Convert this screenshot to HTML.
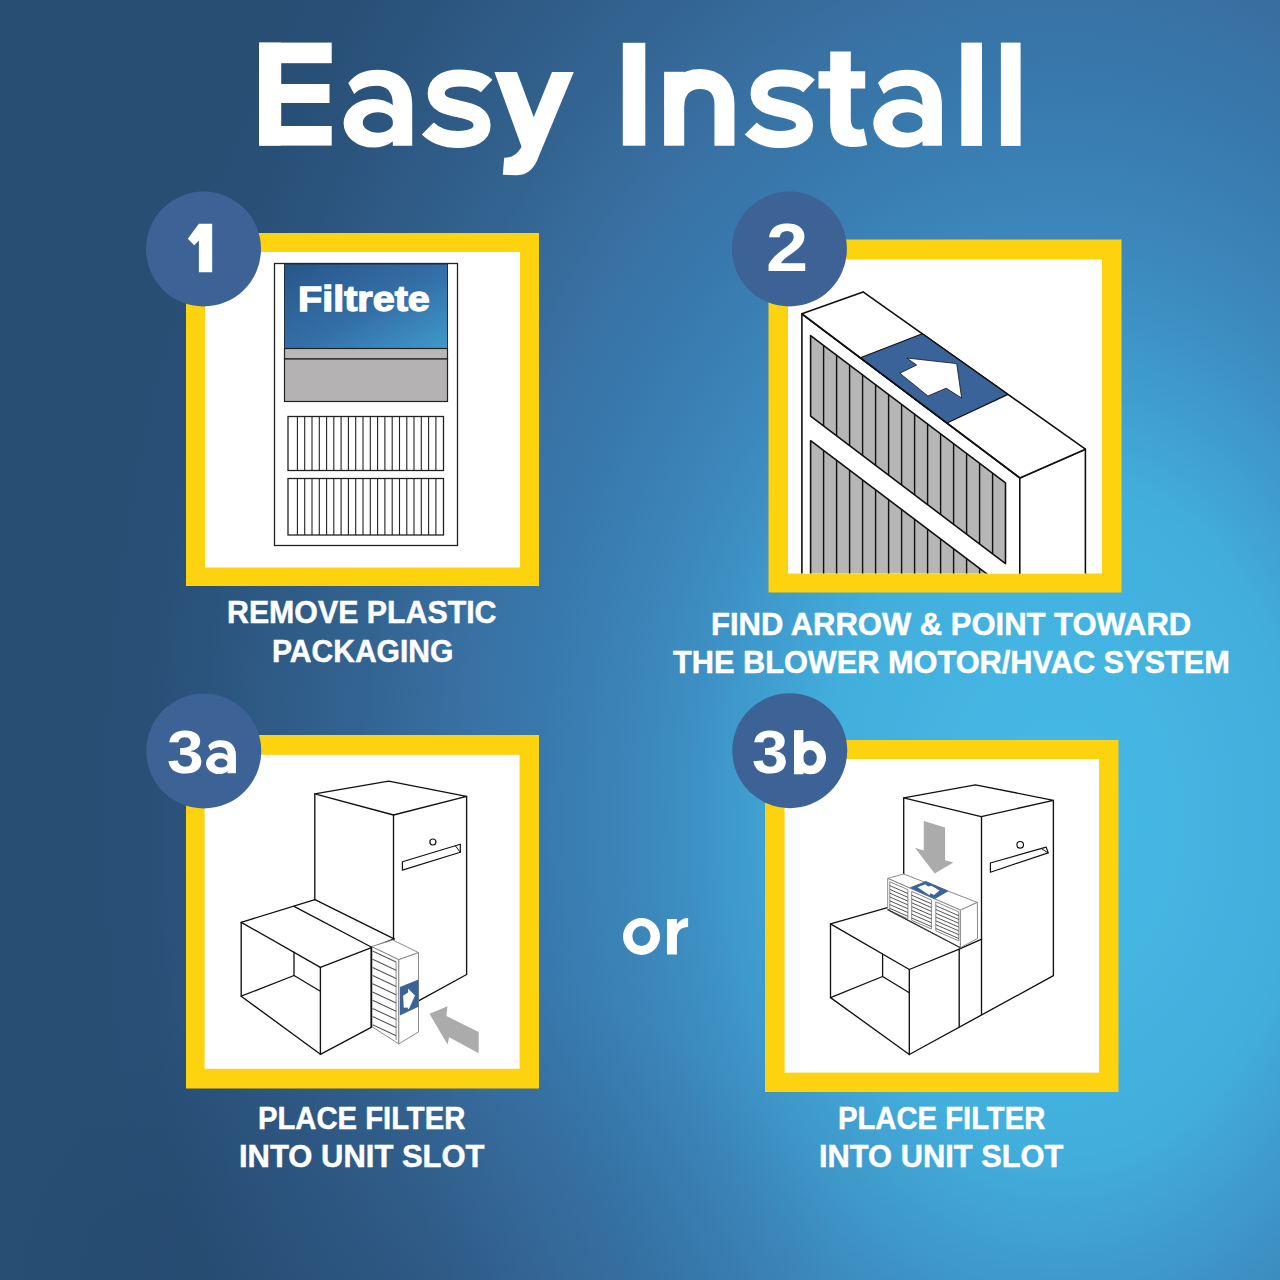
<!DOCTYPE html>
<html><head><meta charset="utf-8">
<style>
html,body{margin:0;padding:0;}
body{width:1280px;height:1280px;overflow:hidden;position:relative;background:radial-gradient(ellipse 420px 330px at 420px 1300px, rgba(28,52,88,0.22) 0%, rgba(28,52,88,0.12) 50%, rgba(28,52,88,0) 100%),
 radial-gradient(ellipse 1000px 1400px at 1060px 820px, #47bae7 0%, #45b7e4 7%, #42aedc 24%, #3d8ec2 38%, #3c87bb 42%, #3878ac 53%, #3872a5 59%, #386ea0 62%, #336491 70%, #2e5a85 80%, #2b547d 86%, #284f76 92%, #284e74 100%);font-family:"Liberation Sans",sans-serif;}
.t{position:absolute;color:#fff;font-weight:bold;white-space:nowrap;line-height:1;transform-origin:0 0;}
.c{position:absolute;color:#fff;font-weight:bold;white-space:nowrap;line-height:1;text-align:center;width:600px;}
svg{position:absolute;left:0;top:0;}
</style></head><body>
<svg width="1280" height="1280" viewBox="0 0 1280 1280">
<g fill="#fdd20e">
<rect x="186" y="233" width="353" height="353"/>
<rect x="768.5" y="239.5" width="353" height="353"/>
<rect x="186" y="735" width="353" height="353.5"/>
<rect x="765" y="740" width="353.5" height="352"/>
</g>
<g fill="#fff">
<rect x="205" y="252" width="315" height="315.5"/>
<rect x="788" y="259.5" width="314" height="314"/>
<rect x="204.6" y="754.8" width="315" height="314"/>
<rect x="784.6" y="759" width="314.4" height="313.6"/>
</g>
<g id="p1">
<defs><linearGradient id="fg1" x1="0" y1="0" x2="1" y2="1"><stop offset="0" stop-color="#27568a"/><stop offset="0.55" stop-color="#3470a8"/><stop offset="1" stop-color="#3e9acb"/></linearGradient></defs>
<rect x="274.5" y="263.5" width="183" height="282" fill="#fff" stroke="#222" stroke-width="1.3"/>
<rect x="284.5" y="264" width="163" height="84.5" fill="url(#fg1)" stroke="#1d2d44" stroke-width="1"/>
<rect x="284.5" y="348.5" width="163" height="10.5" fill="#bab7b7" stroke="#222" stroke-width="1.2"/>
<rect x="284.5" y="359" width="163" height="42.5" fill="#b5b2b3" stroke="#222" stroke-width="1.2"/>
<rect x="288" y="416.5" width="155.5" height="54.0" fill="#fff" stroke="#222" stroke-width="1.3"/>
<line x1="297.4" y1="416.5" x2="297.4" y2="470.5" stroke="#222" stroke-width="1.1"/>
<line x1="304.7" y1="416.5" x2="304.7" y2="470.5" stroke="#222" stroke-width="1.1"/>
<line x1="312.0" y1="416.5" x2="312.0" y2="470.5" stroke="#222" stroke-width="1.1"/>
<line x1="319.3" y1="416.5" x2="319.3" y2="470.5" stroke="#222" stroke-width="1.1"/>
<line x1="326.6" y1="416.5" x2="326.6" y2="470.5" stroke="#222" stroke-width="1.1"/>
<line x1="333.8" y1="416.5" x2="333.8" y2="470.5" stroke="#222" stroke-width="1.1"/>
<line x1="341.1" y1="416.5" x2="341.1" y2="470.5" stroke="#222" stroke-width="1.1"/>
<line x1="348.4" y1="416.5" x2="348.4" y2="470.5" stroke="#222" stroke-width="1.1"/>
<line x1="355.7" y1="416.5" x2="355.7" y2="470.5" stroke="#222" stroke-width="1.1"/>
<line x1="363.0" y1="416.5" x2="363.0" y2="470.5" stroke="#222" stroke-width="1.1"/>
<line x1="370.3" y1="416.5" x2="370.3" y2="470.5" stroke="#222" stroke-width="1.1"/>
<line x1="377.6" y1="416.5" x2="377.6" y2="470.5" stroke="#222" stroke-width="1.1"/>
<line x1="384.9" y1="416.5" x2="384.9" y2="470.5" stroke="#222" stroke-width="1.1"/>
<line x1="392.2" y1="416.5" x2="392.2" y2="470.5" stroke="#222" stroke-width="1.1"/>
<line x1="399.5" y1="416.5" x2="399.5" y2="470.5" stroke="#222" stroke-width="1.1"/>
<line x1="406.8" y1="416.5" x2="406.8" y2="470.5" stroke="#222" stroke-width="1.1"/>
<line x1="414.0" y1="416.5" x2="414.0" y2="470.5" stroke="#222" stroke-width="1.1"/>
<line x1="421.3" y1="416.5" x2="421.3" y2="470.5" stroke="#222" stroke-width="1.1"/>
<line x1="428.6" y1="416.5" x2="428.6" y2="470.5" stroke="#222" stroke-width="1.1"/>
<line x1="435.9" y1="416.5" x2="435.9" y2="470.5" stroke="#222" stroke-width="1.1"/>
<rect x="288" y="478.5" width="155.5" height="56.5" fill="#fff" stroke="#222" stroke-width="1.3"/>
<line x1="297.4" y1="478.5" x2="297.4" y2="535" stroke="#222" stroke-width="1.1"/>
<line x1="304.7" y1="478.5" x2="304.7" y2="535" stroke="#222" stroke-width="1.1"/>
<line x1="312.0" y1="478.5" x2="312.0" y2="535" stroke="#222" stroke-width="1.1"/>
<line x1="319.3" y1="478.5" x2="319.3" y2="535" stroke="#222" stroke-width="1.1"/>
<line x1="326.6" y1="478.5" x2="326.6" y2="535" stroke="#222" stroke-width="1.1"/>
<line x1="333.8" y1="478.5" x2="333.8" y2="535" stroke="#222" stroke-width="1.1"/>
<line x1="341.1" y1="478.5" x2="341.1" y2="535" stroke="#222" stroke-width="1.1"/>
<line x1="348.4" y1="478.5" x2="348.4" y2="535" stroke="#222" stroke-width="1.1"/>
<line x1="355.7" y1="478.5" x2="355.7" y2="535" stroke="#222" stroke-width="1.1"/>
<line x1="363.0" y1="478.5" x2="363.0" y2="535" stroke="#222" stroke-width="1.1"/>
<line x1="370.3" y1="478.5" x2="370.3" y2="535" stroke="#222" stroke-width="1.1"/>
<line x1="377.6" y1="478.5" x2="377.6" y2="535" stroke="#222" stroke-width="1.1"/>
<line x1="384.9" y1="478.5" x2="384.9" y2="535" stroke="#222" stroke-width="1.1"/>
<line x1="392.2" y1="478.5" x2="392.2" y2="535" stroke="#222" stroke-width="1.1"/>
<line x1="399.5" y1="478.5" x2="399.5" y2="535" stroke="#222" stroke-width="1.1"/>
<line x1="406.8" y1="478.5" x2="406.8" y2="535" stroke="#222" stroke-width="1.1"/>
<line x1="414.0" y1="478.5" x2="414.0" y2="535" stroke="#222" stroke-width="1.1"/>
<line x1="421.3" y1="478.5" x2="421.3" y2="535" stroke="#222" stroke-width="1.1"/>
<line x1="428.6" y1="478.5" x2="428.6" y2="535" stroke="#222" stroke-width="1.1"/>
<line x1="435.9" y1="478.5" x2="435.9" y2="535" stroke="#222" stroke-width="1.1"/>
</g>
<defs><clipPath id="c2"><rect x="788" y="259.5" width="314" height="314"/></clipPath></defs>
<g clip-path="url(#c2)" stroke="#111" stroke-width="1.6" stroke-linejoin="round">
<polygon points="801.9,313.8 1019.8,477.9 1019.8,700.0 801.9,700.0" fill="#fff"/>
<polygon points="1019.8,477.9 1085.4,449.2 1085.4,700.0 1019.8,700.0" fill="#fff"/>
<polygon points="810.6,335.6 1005.5,482.9 1005.5,563.6 810.6,416.2" fill="#b6b6b6"/>
<line x1="823.6" y1="345.4" x2="823.6" y2="426.1" stroke-width="1.4"/>
<line x1="836.6" y1="355.3" x2="836.6" y2="435.9" stroke-width="1.4"/>
<line x1="849.6" y1="365.1" x2="849.6" y2="445.7" stroke-width="1.4"/>
<line x1="862.6" y1="374.9" x2="862.6" y2="455.6" stroke-width="1.4"/>
<line x1="875.6" y1="384.7" x2="875.6" y2="465.4" stroke-width="1.4"/>
<line x1="888.6" y1="394.6" x2="888.6" y2="475.2" stroke-width="1.4"/>
<line x1="901.6" y1="404.4" x2="901.6" y2="485.0" stroke-width="1.4"/>
<line x1="914.6" y1="414.2" x2="914.6" y2="494.9" stroke-width="1.4"/>
<line x1="927.6" y1="424.1" x2="927.6" y2="504.7" stroke-width="1.4"/>
<line x1="940.6" y1="433.9" x2="940.6" y2="514.5" stroke-width="1.4"/>
<line x1="953.6" y1="443.7" x2="953.6" y2="524.4" stroke-width="1.4"/>
<line x1="966.6" y1="453.5" x2="966.6" y2="534.2" stroke-width="1.4"/>
<line x1="979.6" y1="463.4" x2="979.6" y2="544.0" stroke-width="1.4"/>
<line x1="992.6" y1="473.2" x2="992.6" y2="553.8" stroke-width="1.4"/>
<polygon points="810.6,440.7 1005.5,588.0 1005.5,760.0 810.6,760.0" fill="#b6b6b6"/>
<line x1="823.6" y1="450.5" x2="823.6" y2="760.0" stroke-width="1.4"/>
<line x1="836.6" y1="460.4" x2="836.6" y2="760.0" stroke-width="1.4"/>
<line x1="849.6" y1="470.2" x2="849.6" y2="760.0" stroke-width="1.4"/>
<line x1="862.6" y1="480.0" x2="862.6" y2="760.0" stroke-width="1.4"/>
<line x1="875.6" y1="489.8" x2="875.6" y2="760.0" stroke-width="1.4"/>
<line x1="888.6" y1="499.7" x2="888.6" y2="760.0" stroke-width="1.4"/>
<line x1="901.6" y1="509.5" x2="901.6" y2="760.0" stroke-width="1.4"/>
<line x1="914.6" y1="519.3" x2="914.6" y2="760.0" stroke-width="1.4"/>
<line x1="927.6" y1="529.2" x2="927.6" y2="760.0" stroke-width="1.4"/>
<line x1="940.6" y1="539.0" x2="940.6" y2="760.0" stroke-width="1.4"/>
<line x1="953.6" y1="548.8" x2="953.6" y2="760.0" stroke-width="1.4"/>
<line x1="966.6" y1="558.6" x2="966.6" y2="760.0" stroke-width="1.4"/>
<line x1="979.6" y1="568.5" x2="979.6" y2="760.0" stroke-width="1.4"/>
<line x1="992.6" y1="578.3" x2="992.6" y2="760.0" stroke-width="1.4"/>
<polygon points="801.9,313.8 863.1,291.9 1085.4,449.2 1019.8,477.9" fill="#fff"/>
<polygon points="860.4,357.8 922.3,333.8 1008.0,394.4 946.9,423.0" fill="#3a6399" stroke-width="1.2"/>
<polyline points="801.9,313.8 1019.8,477.9" fill="none"/>
<polygon points="906.8,358.0 956.7,363.6 961.6,398.0 946.2,388.2 927.9,396.0 899.8,373.2 916.6,365.0" fill="#fff" stroke-width="0.8"/>
</g>
<g stroke="#111" stroke-width="1.35" fill="none" stroke-linejoin="round" stroke-linecap="round">
<polygon points="314.8,793.9 388.6,781.2 466.6,796.4 393.5,815.0"/>
<polyline points="314.8,793.9 314.8,899.7"/>
<polyline points="393.5,815 393.5,938.9"/>
<polyline points="466.6,796.4 466.6,974.5 419,1000.7"/>
<polygon points="402.4,861.7 460.3,844.2 460.3,852.3 402.4,870.1" stroke-width="1.2"/>
<polyline points="455.5,846 460.3,852.3" stroke-width="1"/>
<circle cx="432.9" cy="842" r="3" stroke-width="1.2"/>
<polyline points="241.2,922.3 314.9,899.7 394.1,938.9"/>
<polyline points="294.0,906.4 371.2,947.0"/>
<polyline points="241.2,922.3 320.4,967.3 394.1,938.9"/>
<polyline points="241.2,922.3 241.2,996.2 320.4,1054.3 371.2,1027.3 371.2,947.0"/>
<polyline points="320.4,967.3 320.4,1054.3"/>
<polyline points="294.0,952.1 294.0,975.5 241.2,996.2" stroke-width="1.3"/>
<polyline points="294.0,975.5 320.4,991.3" stroke-width="1.3"/>
</g>
<g stroke="#8a8a8a" stroke-width="1" fill="#fff" stroke-linejoin="round">
<polygon points="371.5,946.6 392.8,940.0 418.5,952.6 398.8,959.7"/>
<polygon points="371.5,946.6 398.8,959.7 398.8,1043.9 371.5,1026.4"/>
<polygon points="398.8,959.7 418.5,952.6 418.5,1031.9 398.8,1043.9"/>
<polyline points="396.1,962 396.1,1040" fill="none"/>
</g>
<g stroke="#555" stroke-width="1.1">
<line x1="372.6" y1="951.0" x2="396.1" y2="962.0"/>
<line x1="372.6" y1="959.2" x2="396.1" y2="970.2"/>
<line x1="372.6" y1="967.4" x2="396.1" y2="978.4"/>
<line x1="372.6" y1="975.6" x2="396.1" y2="986.6"/>
<line x1="372.6" y1="983.8" x2="396.1" y2="994.8"/>
<line x1="372.6" y1="992.0" x2="396.1" y2="1003.0"/>
<line x1="372.6" y1="1000.2" x2="396.1" y2="1011.2"/>
<line x1="372.6" y1="1008.4" x2="396.1" y2="1019.4"/>
<line x1="372.6" y1="1016.6" x2="396.1" y2="1027.6"/>
<line x1="372.6" y1="1024.8" x2="396.1" y2="1035.8"/>
</g>
<line x1="371.5" y1="946.6" x2="371.5" y2="1027.3" stroke="#111" stroke-width="1.5"/>
<polygon points="399.9,987.0 418.5,979.4 418.5,1006.7 399.9,1015.5" fill="#3a6399"/>
<polygon points="403.1,995.8 408.0,992.6 408.0,988.4 415.0,995.4 408.7,1009.5 407.3,1007.4 403.8,1007.7" fill="#fff"/>
<polygon points="429.5,1013.8 447.5,1006.2 446.4,1016.0 478.7,1031.9 478.7,1053.2 449.1,1037.3 447.5,1044.5" fill="#ababab"/>
<g stroke="#111" stroke-width="1.35" fill="none" stroke-linejoin="round" stroke-linecap="round">
<polygon points="903.7,797.9 975.4,784.9 1053.4,800.3 981.2,816.7"/>
<polyline points="903.7,797.9 903.7,874"/>
<polyline points="981.5,816.7 981.5,1014.5"/>
<polyline points="1053.4,800.3 1053.4,975.7 909.3,1054.5"/>
<polygon points="990.4,863.0 1046.2,847.1 1048.2,852.9 990.4,872.2" stroke-width="1.2"/>
<polyline points="1042,849 1048.2,852.9" stroke-width="1"/>
<circle cx="1020.2" cy="844.8" r="3.3" stroke-width="1.2"/>
<polyline points="887.5,907.6 830.5,923.8 909.3,969.5 959.2,949.1 981.7,939.2"/>
<polyline points="830.5,923.8 830.5,997.6 909.3,1054.5"/>
<polyline points="909.3,969.5 909.3,1054.5"/>
<polyline points="959.2,949.1 959.2,1027.1"/>
<polyline points="882.6,954.7 882.6,976.5 830.5,997.6" stroke-width="1.3"/>
<polyline points="882.6,976.5 909.3,992.7" stroke-width="1.3"/>
</g>
<g stroke="#8a8a8a" stroke-width="1" fill="#fff" stroke-linejoin="round">
<polygon points="887.7,878.4 903.5,874.0 977.4,902.4 960.4,910.1"/>
<polygon points="887.7,878.4 960.4,910.1 960.4,947.7 887.7,909.6"/>
<polygon points="960.4,910.1 977.4,902.4 977.5,938.5 960.4,947.7"/>
<polygon points="889.8,881.8 907.9,889.7 907.9,918.7 889.8,910.8" fill="none"/>
<line x1="889.8" y1="885.6" x2="907.9" y2="893.5" stroke="#555"/>
<line x1="889.8" y1="889.4" x2="907.9" y2="897.3" stroke="#555"/>
<line x1="889.8" y1="893.2" x2="907.9" y2="901.1" stroke="#555"/>
<line x1="889.8" y1="897.0" x2="907.9" y2="904.9" stroke="#555"/>
<line x1="889.8" y1="900.8" x2="907.9" y2="908.7" stroke="#555"/>
<line x1="889.8" y1="904.6" x2="907.9" y2="912.5" stroke="#555"/>
<line x1="889.8" y1="908.4" x2="907.9" y2="916.3" stroke="#555"/>
<polygon points="911.7,891.4 931.4,900.0 931.4,929.0 911.7,920.4" fill="none"/>
<line x1="911.7" y1="895.2" x2="931.4" y2="903.8" stroke="#555"/>
<line x1="911.7" y1="899.0" x2="931.4" y2="907.6" stroke="#555"/>
<line x1="911.7" y1="902.8" x2="931.4" y2="911.4" stroke="#555"/>
<line x1="911.7" y1="906.6" x2="931.4" y2="915.2" stroke="#555"/>
<line x1="911.7" y1="910.4" x2="931.4" y2="919.0" stroke="#555"/>
<line x1="911.7" y1="914.2" x2="931.4" y2="922.8" stroke="#555"/>
<line x1="911.7" y1="918.0" x2="931.4" y2="926.6" stroke="#555"/>
<polygon points="935.8,901.9 958.8,911.9 958.8,940.9 935.8,930.9" fill="none"/>
<line x1="935.8" y1="905.7" x2="958.8" y2="915.7" stroke="#555"/>
<line x1="935.8" y1="909.5" x2="958.8" y2="919.5" stroke="#555"/>
<line x1="935.8" y1="913.3" x2="958.8" y2="923.3" stroke="#555"/>
<line x1="935.8" y1="917.1" x2="958.8" y2="927.1" stroke="#555"/>
<line x1="935.8" y1="920.9" x2="958.8" y2="930.9" stroke="#555"/>
<line x1="935.8" y1="924.7" x2="958.8" y2="934.7" stroke="#555"/>
<line x1="935.8" y1="928.5" x2="958.8" y2="938.5" stroke="#555"/>
</g>
<polyline points="887.7,909.6 960.4,947.7" fill="none" stroke="#333" stroke-width="1.2"/>
<polygon points="910.6,887.7 925.9,881.6 947.8,891.0 934.7,898.6" fill="#3a6399" stroke="#3a6399" stroke-width="1" stroke-linejoin="round"/>
<polygon points="917.5,887.2 925.5,884.3 928.0,886.5 931.5,885.8 939.5,890.5 934.0,895.0 930.5,893.2 929.5,895.2" fill="#fff"/>
<polygon points="923.8,821.0 945.1,827.5 945.1,860.3 953.3,862.5 934.7,873.4 915.0,847.7 923.8,850.5" fill="#ababab"/>
<g fill="#3d6295">
<circle cx="203.5" cy="249" r="57.5"/>
<circle cx="789.4" cy="249" r="57.5"/>
<circle cx="203.75" cy="751" r="57.5"/>
<circle cx="789.75" cy="750.7" r="57.5"/>
</g>
</svg>
<svg width="1280" height="200" style="position:absolute;left:0;top:0"><g fill="#fff"><rect x="259" y="42.6" width="22.20" height="103.00"/><rect x="259" y="42.6" width="72.70" height="20.60"/><rect x="259" y="84" width="70.50" height="19.00"/><rect x="259" y="126" width="72.70" height="19.60"/><path d="M348.3,83.1 C355.6,73.5 365.6,69.8 377.6,69.8 C399.6,69.8 412.20000000000005,83 412.20000000000005,104 L412.20000000000005,145.7 L392.8,145.7 L392.8,104 C392.8,92 386.6,85.8 376.6,85.8 C367.6,85.8 360.1,88.5 354.1,94 Z"/><path fill-rule="evenodd" d="M343.6,123.25 a29.6,24.3 0 1,0 59.2,0 a29.6,24.3 0 1,0 -59.2,0 Z M362.8,122.5 a15.2,10.3 0 1,0 30.4,0 a15.2,10.3 0 1,0 -30.4,0 Z"/><path d="M486.67846153846153,86 C480.13846153846157,80 470.0769230769231,78.1 459.0092307692308,78.1 C444.9230769230769,78.1 436.1695384615385,84 436.1695384615385,93.5 C436.1695384615385,104 446.93538461538463,106.5 459.0092307692308,109 C473.09538461538466,112 482.0501538461539,115 482.0501538461539,125.5 C482.0501538461539,135 472.08923076923077,139.5 458.00307692307695,139.5 C445.9292307692308,139.5 434.8615384615385,135.5 427.8184615384616,128.5" fill="none" stroke="#fff" stroke-width="17"/><path d="M552,71.9 L573.8,71.9 L538.5,157 C534.5,168 528,175.2 517,175.2 L502.8,174.8 L504.2,157.7 C512,158 518,154 522.5,145 Z"/><polygon points="494.4,71.9 516.9,71.9 540,134 522,148"/><rect x="622.8" y="42.8" width="22.50" height="102.90"/><rect x="664.1" y="71.8" width="20.10" height="73.90"/><path d="M674.2,106 C674.2,88 686,78.9 700,78.9 C716,78.9 724.45,89 724.45,104 L724.45,145.7" fill="none" stroke="#fff" stroke-width="20"/><path d="M809.1107692307692,86 C802.6307692307691,80 792.6615384615384,78.1 781.6953846153846,78.1 C767.7384615384615,78.1 759.0652307692308,84 759.0652307692308,93.5 C759.0652307692308,104 769.7323076923077,106.5 781.6953846153846,109 C795.6523076923077,112 804.5249230769231,115 804.5249230769231,125.5 C804.5249230769231,135 794.6553846153846,139.5 780.6984615384615,139.5 C768.7353846153845,139.5 757.7692307692307,135.5 750.7907692307692,128.5" fill="none" stroke="#fff" stroke-width="17"/><path d="M830.2,51.6 L850.8,51.6 L850.8,71.3 L865.2,71.3 L865.2,88.4 L850.8,88.4 L850.8,118 C850.8,126 853.5,129.5 858.5,129.5 C860.5,129.5 862.5,129 863.8,128.5 L867.2,145 C863.5,146.3 858.5,147 853.5,147 C838,147 830.2,139 830.2,122 L830.2,88.4 L818.5,88.4 L818.5,71.3 L830.2,71.3 Z"/><path d="M878.0,83.1 C885.3,73.5 895.3,69.8 907.3,69.8 C929.3,69.8 941.9,83 941.9,104 L941.9,145.7 L922.5,145.7 L922.5,104 C922.5,92 916.3,85.8 906.3,85.8 C897.3,85.8 889.8,88.5 883.8,94 Z"/><path fill-rule="evenodd" d="M873.3,123.25 a29.6,24.3 0 1,0 59.2,0 a29.6,24.3 0 1,0 -59.2,0 Z M892.4999999999999,122.5 a15.2,10.3 0 1,0 30.4,0 a15.2,10.3 0 1,0 -30.4,0 Z"/><rect x="961.3" y="42.6" width="20.70" height="103.30"/><rect x="1000.9" y="42.6" width="19.70" height="103.30"/></g></svg>
<div class="t" style="left:227.35px;top:596.05px;font-size:32px;transform:scaleX(0.9473);-webkit-text-stroke:0.5px #fff;">REMOVE PLASTIC</div>
<div class="t" style="left:272.36px;top:634.75px;font-size:32px;transform:scaleX(0.9387);-webkit-text-stroke:0.5px #fff;">PACKAGING</div>
<div class="t" style="left:711.29px;top:609.55px;font-size:30.8px;transform:scaleX(1.0061);-webkit-text-stroke:0.5px #fff;">FIND ARROW &amp; POINT TOWARD</div>
<div class="t" style="left:672.8px;top:647.45px;font-size:31px;transform:scaleX(0.9909);-webkit-text-stroke:0.5px #fff;">THE BLOWER MOTOR/HVAC SYSTEM</div>
<div class="t" style="left:258.46px;top:1102.55px;font-size:31px;transform:scaleX(0.9427);-webkit-text-stroke:0.5px #fff;">PLACE FILTER</div>
<div class="t" style="left:238.92px;top:1141.35px;font-size:31.5px;transform:scaleX(0.9835);-webkit-text-stroke:0.5px #fff;">INTO UNIT SLOT</div>
<div class="t" style="left:837.76px;top:1102.55px;font-size:31px;transform:scaleX(0.9427);-webkit-text-stroke:0.5px #fff;">PLACE FILTER</div>
<div class="t" style="left:818.92px;top:1141.35px;font-size:31.5px;transform:scaleX(0.9787);-webkit-text-stroke:0.5px #fff;">INTO UNIT SLOT</div>
<div class="t" style="left:766.4px;top:213.3px;font-size:69px;transform:scaleX(1.1);">2</div>
<div class="t" style="left:166.83px;top:720.7px;font-size:62px;transform:scaleX(1.0656);">3</div>
<div class="t" style="left:752.35px;top:720.7px;font-size:62px;transform:scaleX(1.05);">3</div>
<div class="t" style="left:298.2px;top:280.85px;font-size:35px;-webkit-text-stroke:1.3px #fff;transform:scaleX(1.13);">Filtrete</div>
<svg width="1280" height="1280" style="position:absolute;left:0;top:0"><polygon points="198.9,223.75 212.2,223.75 212.2,272.2 198.9,272.2 198.9,240.5 194.2,245.2 187.8,238.7" fill="#fff"/></svg>
<svg width="1280" height="1280" style="position:absolute;left:0;top:0"><g fill="#fff"><g transform="translate(206.1,709.8) scale(0.435)"><path d="M4.7,83.1 C12,73.5 22,69.8 34,69.8 C56,69.8 68.6,83 68.6,104 L68.6,145.7 L49.2,145.7 L49.2,104 C49.2,92 43,85.8 33,85.8 C24,85.8 16.5,88.5 10.5,94 Z"/><path fill-rule="evenodd" d="M0.0,123.25 a29.6,24.3 0 1,0 59.2,0 a29.6,24.3 0 1,0 -59.2,0 Z M19.2,122.5 a15.2,10.3 0 1,0 30.4,0 a15.2,10.3 0 1,0 -30.4,0 Z"/></g><rect x="794" y="730.1" width="9.4" height="44.2"/><path fill-rule="evenodd" d="M795,757.55 a15.5,16.75 0 1,0 31,0 a15.5,16.75 0 1,0 -31,0 Z M803.15,757.8 a6.85,7.9 0 1,0 13.7,0 a6.85,7.9 0 1,0 -13.7,0 Z"/><path fill-rule="evenodd" d="M623,936.5 a18.5,18.5 0 1,0 37,0 a18.5,18.5 0 1,0 -37,0 Z M632.3,936.05 a9.15,10.05 0 1,0 18.3,0 a9.15,10.05 0 1,0 -18.3,0 Z"/><path d="M667,954.5 L667,919 L676.9,919 L676.9,924.5 C679.5,920.5 683.5,918 688.1,918 L688.1,926.9 C681.5,926.9 676.9,930.5 676.9,938 L676.9,954.5 Z"/></g></svg>
</body></html>
